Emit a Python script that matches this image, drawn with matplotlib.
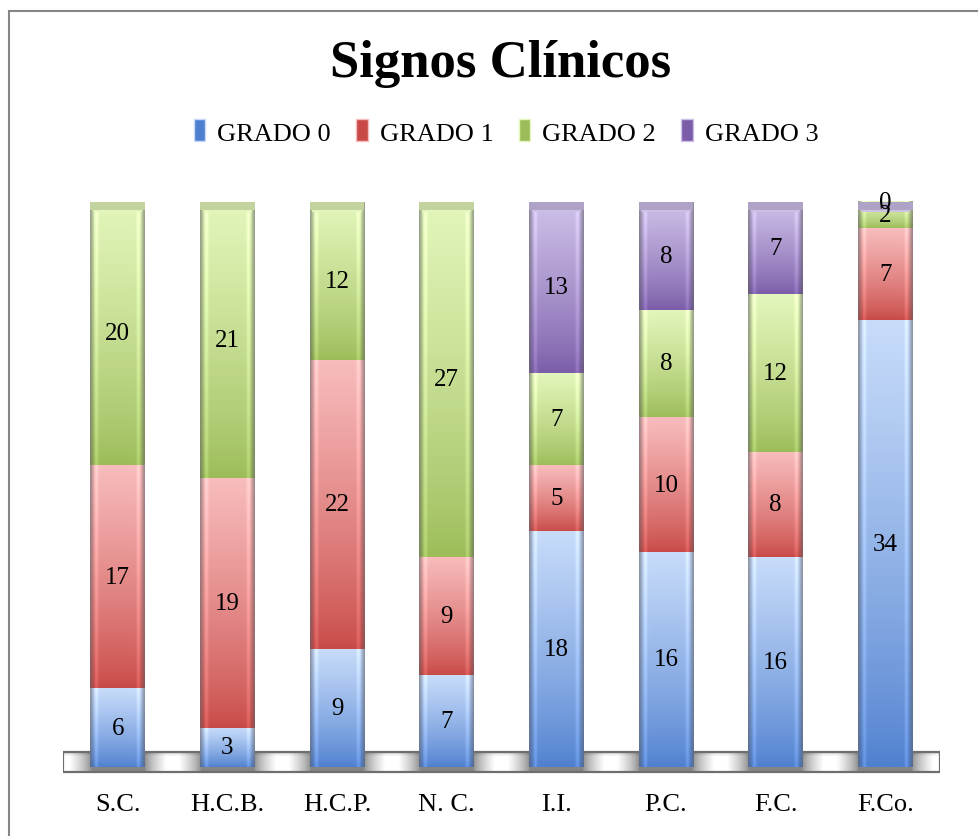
import matplotlib
matplotlib.use("Agg")
import matplotlib.pyplot as plt
import numpy as np
from matplotlib.patches import Rectangle
from matplotlib.colors import to_rgb

# Datos: número de casos por grado para cada signo clínico
categorias = ["S.C.", "H.C.B.", "H.C.P.", "N. C.", "I.I.", "P.C.", "F.C.", "F.Co."]
grado0 = [6, 3, 9, 7, 18, 16, 16, 34]
grado1 = [17, 19, 22, 9, 5, 10, 8, 7]
grado2 = [20, 21, 12, 27, 7, 8, 12, 2]
grado3 = [np.nan, np.nan, np.nan, np.nan, 13, 8, 7, 0]
series_nombres = ["GRADO 0", "GRADO 1", "GRADO 2", "GRADO 3"]

# colores (claro arriba, oscuro abajo)
col_claro = ["#c8dcfa", "#f8bcbc", "#e3f6bb", "#cdc0e8"]
col_oscuro = ["#4f80cf", "#c84a47", "#9cbc59", "#7a5ca8"]

plt.rcParams["font.family"] = ["Liberation Serif", "DejaVu Serif"]

fig = plt.figure(figsize=(9.79, 8.37), dpi=100)
fig.patch.set_facecolor("white")

# marco exterior del gráfico
fig.patches.append(Rectangle((9 / 979, -0.05), 1.2, 1 - 12 / 837 + 0.05,
                             transform=fig.transFigure, fill=False,
                             edgecolor="#868686", linewidth=1.5))

ax = fig.add_axes([63 / 979, 0.0689, 877 / 979, 0.702])
ax.set_xlim(-0.5, 7.5)
ax.set_ylim(-0.02, 1.02)
ax.axis("off")


def degradado(claro, oscuro, alto=80, ancho=40):
    c1 = np.array(to_rgb(claro))
    c2 = np.array(to_rgb(oscuro))
    t = np.linspace(1, 0, alto)[:, None, None] ** 0.8
    img = c2 + (c1 - c2) * t
    img = np.repeat(img, ancho, axis=1)
    u = np.linspace(0, 1, ancho)
    e = np.minimum(u, 1 - u) * 2
    borde = 0.72 + 0.28 * np.clip(e / 0.14, 0, 1)
    brillo = 0.10 * np.exp(-((e - 0.22) / 0.06) ** 2)
    gris = np.array([0.55, 0.55, 0.58])
    mezcla = (1 - np.clip(e / 0.14, 0, 1))[None, :, None] * 0.35
    img = img * borde[None, :, None] + brillo[None, :, None]
    img = img * (1 - mezcla) + gris * mezcla
    return np.clip(img, 0, 1)


# piso (plataforma gris)
xs = np.linspace(-0.5, 7.5, 1600)
d = np.abs(xs - np.round(xs))
b = np.clip((d - 0.24) / 0.20, 0, 1) ** 0.7
fila = 0.52 + 0.48 * b
piso = np.repeat(np.stack([fila, fila, fila], axis=-1)[None, :, :], 6, axis=0)
piso[0] *= 0.85
piso_y0, piso_y1 = -0.009, 0.027
ax.imshow(piso, extent=(-0.5, 7.5, piso_y0, piso_y1), aspect="auto",
          origin="upper", interpolation="bilinear", zorder=1)
ax.add_patch(Rectangle((-0.5, piso_y0), 8, piso_y1 - piso_y0, fill=False,
                       edgecolor="#6e6e6e", linewidth=1.6, zorder=1.5))

datos = np.array([grado0, grado1, grado2, grado3], dtype=float)
totales = np.nansum(datos, axis=0)
x = np.arange(len(categorias))
fondo = np.zeros(len(categorias))
ancho_barra = 0.5

for i in range(4):
    valores = datos[i]
    frac = np.nan_to_num(valores) / totales
    barras = ax.bar(x, frac, bottom=fondo, width=ancho_barra,
                    color=col_oscuro[i], zorder=2)
    img = degradado(col_claro[i], col_oscuro[i])
    for j, p in enumerate(barras.patches):
        if np.isnan(valores[j]):
            continue
        bx, by = p.get_x(), p.get_y()
        bw, bh = p.get_width(), p.get_height()
        if bh > 0:
            ax.imshow(img, extent=(bx, bx + bw, by, by + bh), aspect="auto",
                      origin="upper", interpolation="bilinear", zorder=3)
        ax.text(bx + bw / 2, by + bh / 2, f"{int(valores[j])}",
                ha="center", va="center", fontsize=18, zorder=6)
    fondo += frac

# remate superior de cada columna, del color de la última serie
alto_tapa = 0.014
for j in range(len(categorias)):
    ultima = max(i for i in range(4) if not np.isnan(datos[i, j]))
    c = np.array(to_rgb(col_claro[ultima])) * 0.55 + np.array(to_rgb(col_oscuro[ultima])) * 0.2 + 0.25 * np.array([0.6, 0.6, 0.6])
    ax.bar(x[j], alto_tapa, bottom=fondo[j] - alto_tapa, width=ancho_barra,
           color=np.clip(c, 0, 1), zorder=4)
    ax.bar(x[j], 0.003, bottom=fondo[j] - alto_tapa - 0.003, width=ancho_barra * 0.9,
           color=col_claro[ultima], alpha=0.9, zorder=4)

# etiquetas de categoría
for xi, nombre in zip(x, categorias):
    ax.text(xi, -0.065, nombre, ha="center", va="center", fontsize=19)

fig.text(501 / 979, 1 - 64 / 837, "Signos Clínicos", ha="center", va="center",
         fontsize=38, fontweight="bold")

manejadores = [Rectangle((0, 0), 1, 1, facecolor=col_oscuro[i],
                         edgecolor=col_claro[i], linewidth=1) for i in range(4)]
fig.legend(manejadores, series_nombres, loc="center",
           bbox_to_anchor=(506 / 979, 1 - 133 / 837), ncol=4, frameon=False,
           fontsize=19, handlelength=0.45, handleheight=0.9,
           handletextpad=0.45, columnspacing=0.95)

fig.savefig("out.png", dpi=100)
